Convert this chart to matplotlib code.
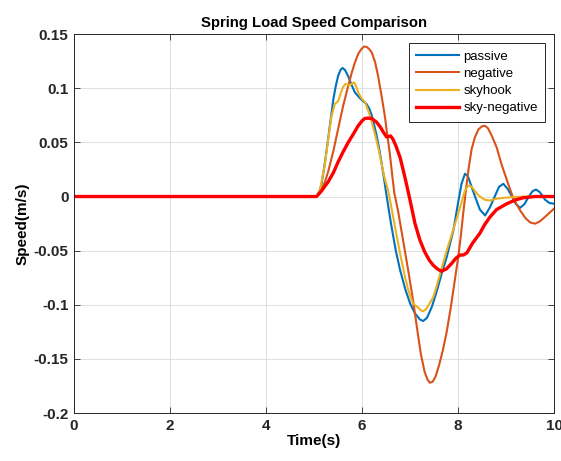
import matplotlib
matplotlib.use('Agg')
import matplotlib.pyplot as plt

# шрифт как в MATLAB (Arial -> Liberation Sans)
plt.rcParams['font.family'] = ['Liberation Sans', 'DejaVu Sans']

# данные
passive_t = [0, 5.0, 5.05, 5.10, 5.15, 5.22, 5.29, 5.35, 5.40, 5.45, 5.50, 5.55, 5.59, 5.64, 5.71, 5.78,
             5.85, 5.95, 6.02, 6.09, 6.15, 6.20, 6.25, 6.30, 6.35, 6.40, 6.45, 6.50, 6.60, 6.70, 6.79,
             6.90, 7.00, 7.10, 7.20, 7.27, 7.35, 7.45, 7.55, 7.65, 7.76, 7.90, 8.00, 8.07, 8.14, 8.20,
             8.27, 8.35, 8.45, 8.56, 8.66, 8.77, 8.85, 8.94, 9.03, 9.12, 9.20, 9.29, 9.38, 9.47, 9.55,
             9.62, 9.70, 9.81, 9.90, 10.0]
passive_v = [0, 0, 0, 0.004, 0.0104, 0.030, 0.053, 0.073, 0.090, 0.102, 0.1116, 0.117, 0.1187, 0.117, 0.111, 0.103,
             0.096, 0.091, 0.088, 0.0855, 0.081, 0.0748, 0.066, 0.0564, 0.045, 0.032, 0.018, 0.003, -0.025, -0.050, -0.068,
             -0.086, -0.099, -0.108, -0.1135, -0.115, -0.112, -0.102, -0.088, -0.072, -0.056, -0.031, -0.005, 0.012, 0.021, 0.019,
             0.010, 0.0, -0.012, -0.0175, -0.010, 0.001, 0.009, 0.0117, 0.007, 0.0, -0.007, -0.0104, -0.007, 0.0, 0.005,
             0.0064, 0.004, -0.003, -0.006, -0.0067]

negative_t = [0, 5.0, 5.05, 5.15, 5.22, 5.29, 5.40, 5.50, 5.60, 5.71, 5.78, 5.85, 5.92, 5.98, 6.04, 6.10,
              6.15, 6.20, 6.27, 6.33, 6.40, 6.47, 6.52, 6.58, 6.63, 6.67, 6.75, 6.85, 6.95, 7.06, 7.15,
              7.22, 7.30, 7.36, 7.41, 7.47, 7.53, 7.60, 7.68, 7.76, 7.85, 7.93, 8.00, 8.05, 8.10, 8.16, 8.22, 8.28,
              8.35, 8.42, 8.50, 8.56, 8.62, 8.70, 8.80, 8.90, 9.04, 9.15, 9.29, 9.40, 9.50, 9.60, 9.70,
              9.84, 10.0]
negative_v = [0, 0, 0, 0.006, 0.013, 0.0227, 0.042, 0.0626, 0.083, 0.1024, 0.114, 0.124, 0.132, 0.136, 0.1386, 0.138,
              0.136, 0.133, 0.124, 0.1116, 0.094, 0.0748, 0.058, 0.038, 0.018, 0.003, -0.014, -0.040, -0.066, -0.096, -0.124,
              -0.145, -0.162, -0.169, -0.172, -0.171, -0.166, -0.156, -0.142, -0.125, -0.101, -0.077, -0.056, -0.038, -0.017, 0.006, 0.027, 0.044,
              0.055, 0.062, 0.065, 0.0653, 0.063, 0.056, 0.0454, 0.030, 0.0117, -0.002, -0.0129, -0.020, -0.024, -0.0251, -0.023,
              -0.0175, -0.011]

skyhook_t = [0, 5.0, 5.05, 5.12, 5.22, 5.30, 5.36, 5.43, 5.50, 5.55, 5.60, 5.65, 5.69, 5.73, 5.78, 5.83,
             5.87, 5.92, 5.98, 6.06, 6.13, 6.20, 6.27, 6.34, 6.40, 6.47, 6.54, 6.60, 6.70, 6.80, 6.89,
             6.97, 7.06, 7.15, 7.22, 7.27, 7.33, 7.40, 7.48, 7.55, 7.65, 7.76, 7.90, 8.04, 8.14, 8.20,
             8.24, 8.30, 8.38, 8.45, 8.55, 8.66, 8.80, 9.0, 9.35, 10.0]
skyhook_v = [0, 0, 0, 0.006, 0.029, 0.055, 0.074, 0.0855, 0.088, 0.095, 0.101, 0.104, 0.1035, 0.1024, 0.104, 0.1055,
             0.102, 0.096, 0.091, 0.087, 0.079, 0.0687, 0.057, 0.044, 0.031, 0.0166, 0.0055, -0.008, -0.032, -0.055, -0.074,
             -0.088, -0.099, -0.102, -0.105, -0.106, -0.104, -0.099, -0.093, -0.083, -0.067, -0.050, -0.030, -0.010, 0.0055, 0.0095,
             0.0101, 0.008, 0.003, 0.0, -0.003, -0.0037, -0.002, -0.001, 0.0, 0.0]

skyneg_t = [0, 5.0, 5.05, 5.15, 5.29, 5.40, 5.50, 5.60, 5.71, 5.82, 5.92, 6.00, 6.05, 6.11, 6.20, 6.30,
            6.38, 6.44, 6.51, 6.55, 6.59, 6.64, 6.70, 6.79, 6.89, 6.99, 7.10, 7.20, 7.30, 7.40, 7.48,
            7.57, 7.65, 7.75, 7.86, 7.95, 8.04, 8.11, 8.18, 8.30, 8.45, 8.55, 8.66, 8.80, 9.01, 9.20,
            9.35, 9.60, 10.0]
skyneg_v = [0, 0, 0, 0.005, 0.0135, 0.022, 0.032, 0.041, 0.050, 0.058, 0.0656, 0.070, 0.072, 0.0724, 0.072, 0.0687,
            0.064, 0.0595, 0.055, 0.0555, 0.056, 0.053, 0.047, 0.036, 0.0178, -0.002, -0.025, -0.040, -0.051, -0.059, -0.0635,
            -0.067, -0.069, -0.067, -0.062, -0.057, -0.054, -0.054, -0.052, -0.043, -0.034, -0.026, -0.019, -0.012, -0.0067, -0.003,
            -0.0012, 0.0, 0.0]

x_ticks = [0, 2, 4, 6, 8, 10]
y_ticks = [-0.2, -0.15, -0.1, -0.05, 0, 0.05, 0.1, 0.15]
y_labels = ['-0.2', '-0.15', '-0.1', '-0.05', '0', '0.05', '0.1', '0.15']

fig = plt.figure(figsize=(5.61, 4.61), dpi=100)
ax = fig.add_axes([0.132, 0.104, 0.856, 0.822])

ax.plot(passive_t, passive_v, color='#0072BD', linewidth=1.5, label='passive')
ax.plot(negative_t, negative_v, color='#D95319', linewidth=1.5, label='negative')
ax.plot(skyhook_t, skyhook_v, color='#EDB120', linewidth=1.5, label='skyhook')
ax.plot(skyneg_t, skyneg_v, color='#FF0000', linewidth=2.4, label='sky-negative')

ax.set_xlim(0, 10)
ax.set_ylim(-0.2, 0.15)
ax.set_xticks(x_ticks)
ax.set_xticklabels([str(x) for x in x_ticks], fontsize=11, fontweight='bold')
ax.set_yticks(y_ticks)
ax.set_yticklabels(y_labels, fontsize=11, fontweight='bold')
ax.tick_params(direction='in', top=True, right=True, length=4, width=0.6, colors='#262626', pad=4)
ax.grid(True, color='#dedede', linewidth=0.7)
for s in ax.spines.values():
    s.set_color('#262626')
    s.set_linewidth(0.7)

ax.set_xlabel('Time(s)', fontsize=11, fontweight='bold', labelpad=1)
ax.set_ylabel('Speed(m/s)', fontsize=11, fontweight='bold', labelpad=3)
ax.set_title('Spring Load Speed Comparison', fontsize=10.7, fontweight='bold', pad=5)

leg = ax.legend(loc='upper right', bbox_to_anchor=(0.981, 0.976), borderaxespad=0,
                fontsize=9.5, handlelength=3.3, handletextpad=0.3, labelspacing=0.38,
                fancybox=False, framealpha=1, edgecolor='#262626', borderpad=0.55)
leg.get_frame().set_linewidth(0.7)

plt.savefig('out.png', dpi=100)
plt.close()
